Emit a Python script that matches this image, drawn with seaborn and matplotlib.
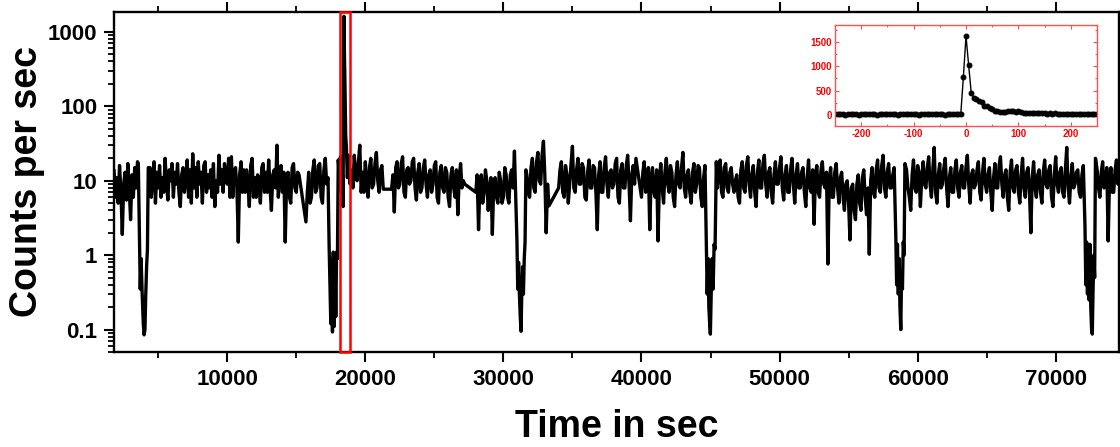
import numpy as np
import pandas as pd
import matplotlib
matplotlib.use('Agg')
from matplotlib import pyplot as plt
from matplotlib.patches import Rectangle
from matplotlib.ticker import MultipleLocator, FixedLocator, LogLocator, NullFormatter
import seaborn as sns

# ---- light curve, counts per sec, 100 s bins between gaps ----
BIN = 100

seg1_t0 = 1800
seg1 = [14, 6, 11, 5, 16, 7, 1.9, 9, 13, 5.5, 17, 8, 3.0, 12, 6, 15, 8, 18]

ecl1_t = [3560, 3640, 3700, 3760, 3840, 3920, 3980, 4040, 4100, 4160, 4220, 4280]
ecl1 = [17, 1.9, 0.35, 0.9, 0.3, 0.12, 0.085, 0.1, 0.3, 0.7, 1.2, 15]

seg2_t0 = 4400
seg2 = [15, 6, 12, 18, 5, 13, 8, 16, 6, 11,
        7, 20, 9, 5.5, 14, 10, 17, 6, 13, 9,
        17, 7, 4.5, 12, 15, 7, 11, 19, 6, 14,
        5, 23, 8, 15, 6, 18, 9, 13, 5, 16,
        18, 7, 12, 8, 14, 6, 17, 4.5, 10, 7,
        22, 9, 14, 7, 17, 11, 9, 20, 6, 21,
        6, 13, 15, 8, 1.5, 12, 18, 7, 14, 7,
        14, 9, 4.5, 16, 20, 6, 11, 6, 12, 9,
        5, 15, 17, 7, 13, 7, 19, 8, 4, 12,
        14, 8, 30, 6, 11, 16, 7, 13, 1.5, 10,
        13, 6, 5, 15, 17, 8, 7, 13, 12]

seg3_t0 = 15700
seg3 = [2.8, 7, 13, 5, 6, 14, 19, 7, 8, 16, 17, 6, 5, 14, 20, 9, 11]

ecl2_t = [17380, 17440, 17500, 17560, 17620, 17680, 17740, 17800, 17860, 17920, 17980, 18040]
ecl2 = [1.3, 0.4, 0.12, 0.9, 0.093, 1.1, 0.11, 1.0, 0.15, 1.1, 0.9, 19]

burst_t = [18120, 18200, 18270, 18330, 18390, 18430, 18450, 18470, 18490, 18510, 18540, 18580, 18630, 18700, 18760]
burst = [12, 21, 7, 14, 4.5, 780, 1620, 1030, 450, 300, 120, 40, 28, 11, 22]

seg4_t0 = 18800
seg4 = [20, 9, 14, 8, 22, 12, 10, 18, 30, 7, 13, 7, 18, 9, 6, 15, 20, 8, 9, 17,
        24, 10, 7, 14, 16, 7.7]

seg5_t0 = 21900
seg5 = [7.7, 12, 3.8, 15, 18, 8, 9, 17, 21, 7,
        6, 14, 15, 9, 10, 18, 20, 8, 5.5, 13,
        17, 7, 8, 15, 19, 9, 6, 12, 14, 7,
        9, 16, 18, 6, 5, 13, 16, 8, 7, 15,
        13, 6, 4.5, 12, 15, 8, 6, 14, 3.5, 11,
        17, 8, 10, 9]

seg6_t0 = 28000
seg6 = [7, 12, 2.2, 9, 12, 5, 7, 14, 10, 4, 8, 11, 1.9, 9, 11, 6, 5, 13, 10, 5,
        6, 15, 12, 6, 5, 12, 14, 8, 25]

ecl3_t = [30980, 31040, 31100, 31160, 31220, 31280, 31330, 31390, 31450, 31510, 31570, 31630]
ecl3 = [1.6, 0.35, 0.8, 0.3, 0.15, 0.095, 0.3, 0.7, 0.3, 0.9, 1.5, 14]

seg7_t0 = 31700
seg7 = [12, 7, 6, 15, 20, 8, 7, 18, 24, 10, 9, 22, 34, 12, 2.0, 9, 4.6]

seg8_t0 = 34000
seg8 = [8, 14, 18, 7, 6, 16, 12, 5, 9, 17,
        29, 8, 7, 14, 20, 9, 9, 17, 15, 6,
        5.5, 13, 19, 8, 8, 16, 15, 7, 2.2, 12,
        18, 7, 7, 15, 21, 9, 6, 13, 14, 8,
        9, 17, 20, 6, 5, 14, 17, 8, 8, 16,
        22, 9, 2.9, 12, 16, 9, 20]

seg9_t0 = 40000
seg9 = [6, 13, 18, 7, 9, 15, 2.2, 11, 15, 7,
        6, 14, 1.55, 10, 17, 8, 5, 13, 20, 9,
        7, 16, 13, 6, 4.5, 12, 18, 9, 8, 15,
        24, 8, 6, 12, 14, 7, 5, 13, 17, 7,
        9, 16, 15, 6, 4.5, 11, 16]

ecl4_t = [44700, 44760, 44820, 44880, 44940, 44990, 45050, 45120, 45190, 45260, 45330, 45420]
ecl4 = [1.5, 0.3, 0.9, 0.2, 0.12, 0.087, 0.3, 0.9, 0.35, 1.4, 1.2, 18]

seg10_t0 = 45500
seg10 = [8, 14, 19, 7, 6, 15, 17, 8, 7, 13,
         15, 9, 7, 10, 12, 6, 5, 14, 18, 8,
         7, 16, 21, 9, 6, 12, 16, 7, 4.5, 13,
         19, 8, 8, 17, 22, 9, 6, 13, 15, 7,
         5, 12, 18, 9, 9, 15, 21, 8, 5.5, 12,
         16, 7, 7, 14, 20, 9, 5, 12, 17, 8,
         8, 13, 15, 7, 4.5, 11, 19, 8, 7, 14,
         2.6, 12, 16, 7, 6, 14, 18, 9, 8, 13,
         0.76, 10, 15, 6, 6, 13, 17, 8, 5, 11,
         13, 6, 4, 9, 10, 5, 1.6, 8, 9, 4,
         3, 9, 12, 5, 4, 11, 14, 6, 3.5, 8,
         1.03, 10, 15, 7, 6, 14, 19, 8, 7, 16,
         22, 8, 6, 13, 17, 8, 8, 12, 15]

ecl5_t = [58420, 58480, 58540, 58600, 58660, 58720, 58780, 58840, 58900, 58960, 59020, 59080]
ecl5 = [1.8, 0.4, 1.4, 0.3, 0.9, 0.2, 0.1, 0.6, 0.35, 1.5, 1.0, 17]

seg11_t0 = 59200
seg11 = [14, 8, 6, 4, 12, 19, 8, 7, 16, 13,
         4.5, 11, 18, 9, 8, 15, 21, 9, 6, 14,
         28, 7, 5, 12, 17, 8, 9, 15, 20, 8,
         4.5, 11, 15, 7, 7, 14, 19, 8, 6, 13,
         16, 8, 8, 15, 22, 9, 5, 12, 14, 8,
         9, 14, 18, 7, 5.5, 13, 20, 9, 7, 12,
         15, 7, 4, 11, 17, 8, 8, 16, 21, 9,
         6, 12, 14, 6, 4, 13, 19, 8, 7, 14,
         16, 7, 5, 12, 20, 8, 6, 13, 15, 7,
         2.0, 11, 18, 8, 6, 12, 14, 7, 5, 13,
         19, 9, 8, 14, 16, 6, 4.5, 12, 21, 9,
         7, 13, 15, 7, 6, 14, 28, 8, 5, 11,
         17, 8, 9, 13, 14, 7, 6, 12, 16]

ecl6_t = [72120, 72180, 72240, 72300, 72360, 72420, 72480, 72540, 72600, 72650, 72700, 72760, 72820, 72880]
ecl6 = [2.5, 0.4, 1.5, 0.3, 1.2, 0.25, 1.4, 0.2, 0.1, 0.087, 0.3, 1.0, 0.5, 20]

seg12_t0 = 73000
seg12 = [14, 8, 6, 13, 18, 8, 9, 15, 1.55, 11, 15, 7, 7, 14, 19, 9, 12]

# ---- inset: burst profile, 5 s bins ----
inset_t0 = -250
inset_rate = [12, 8, 15, 10, 6, 14, 9, 11, 18, 7,
              13, 10, 8, 16, 9, 12, 7, 14, 11, 9,
              15, 8, 10, 13, 6, 12, 9, 17, 10, 8,
              14, 11, 7, 13, 9, 10, 15, 8, 12, 9,
              11, 14, 7, 10, 13, 9, 12, 8, 10,
              780, 1620, 1030, 450,
              345, 320, 290, 255, 190, 180, 150, 115, 85, 72,
              68, 60, 65, 80, 75, 70, 62, 72, 55, 45,
              42, 38, 35, 36, 30, 33, 28, 31, 27, 29,
              25, 28, 24, 26, 22, 25, 23, 21, 24, 20,
              22, 19, 21, 18, 20, 19, 17, 18]


def binned(t0, vals, step):
    return t0 + step * np.arange(len(vals))


pieces = [
    (binned(seg1_t0, seg1, BIN), seg1), (ecl1_t, ecl1),
    (binned(seg2_t0, seg2, BIN), seg2),
    (binned(seg3_t0, seg3, BIN), seg3), (ecl2_t, ecl2), (burst_t, burst),
    (binned(seg4_t0, seg4, BIN), seg4),
    (binned(seg5_t0, seg5, BIN), seg5),
    (binned(seg6_t0, seg6, BIN), seg6), (ecl3_t, ecl3),
    (binned(seg7_t0, seg7, BIN), seg7),
    (binned(seg8_t0, seg8, BIN), seg8),
    (binned(seg9_t0, seg9, BIN), seg9), (ecl4_t, ecl4),
    (binned(seg10_t0, seg10, BIN), seg10), (ecl5_t, ecl5),
    (binned(seg11_t0, seg11, BIN), seg11), (ecl6_t, ecl6),
    (binned(seg12_t0, seg12, BIN), seg12),
]
df = pd.DataFrame({'time': np.concatenate([np.asarray(p[0], float) for p in pieces]),
                   'rate': np.concatenate([np.asarray(p[1], float) for p in pieces])})
df_in = pd.DataFrame({'t': binned(inset_t0, inset_rate, 5), 'rate': inset_rate})

sns.set_theme(style='ticks', rc={'axes.edgecolor': 'black', 'xtick.color': 'black',
                                 'ytick.color': 'black', 'text.color': 'black',
                                 'axes.labelcolor': 'black'})
plt.rcParams['font.family'] = ['Liberation Sans', 'DejaVu Sans']
plt.rcParams['font.weight'] = 'bold'
plt.rcParams['axes.labelweight'] = 'bold'
plt.rcParams['axes.unicode_minus'] = False

fig = plt.figure(figsize=(11.2, 4.47), dpi=100)
ax = fig.add_axes([0.1018, 0.2125, 0.8975, 0.7607])
sns.lineplot(data=df, x='time', y='rate', ax=ax, color='black', lw=2.4,
             estimator=None, sort=False)
ax.set_yscale('log')
ax.set_ylim(0.05, 1850)
ax.set_xlim(1800, 74600)

ax.yaxis.set_major_locator(FixedLocator([0.1, 1, 10, 100, 1000]))
ax.set_yticklabels(['0.1', '1', '10', '100', '1000'])
ax.yaxis.set_minor_locator(LogLocator(base=10, subs=np.arange(2, 10)))
ax.yaxis.set_minor_formatter(NullFormatter())
ax.xaxis.set_major_locator(MultipleLocator(10000))
ax.xaxis.set_minor_locator(MultipleLocator(5000))
ax.tick_params(axis='both', which='major', direction='out', length=7, width=1.5,
               labelsize=16, pad=5)
ax.tick_params(axis='both', which='minor', direction='out', length=4, width=1.3)
ax.tick_params(axis='x', which='both', top=True)
for lab in ax.get_xticklabels() + ax.get_yticklabels():
    lab.set_fontweight('bold')
for s in ax.spines.values():
    s.set_linewidth(1.7)
    s.set_visible(True)

ax.set_xlabel('Time in sec', fontsize=27, fontweight='bold', labelpad=14)
ax.set_ylabel('Counts per sec', fontsize=27, fontweight='bold', labelpad=2)

# red box marking the burst
ax.add_patch(Rectangle((18150, 0), 720, 1, transform=ax.get_xaxis_transform(),
                       fill=False, ec='red', lw=1.8, clip_on=False, zorder=5))

# inset
axin = fig.add_axes([0.7455, 0.7181, 0.234, 0.2259])
axin.set_facecolor('white')
sns.lineplot(data=df_in, x='t', y='rate', ax=axin, color='black', lw=1.0,
             marker='o', markersize=3.5, markeredgecolor='black', estimator=None)
axin.set_xlim(-250, 250)
axin.set_ylim(-230, 1850)
axin.xaxis.set_major_locator(MultipleLocator(100))
axin.xaxis.set_minor_locator(MultipleLocator(50))
axin.yaxis.set_major_locator(MultipleLocator(500))
axin.yaxis.set_minor_locator(MultipleLocator(250))
axin.tick_params(axis='both', which='both', direction='in', top=True, right=True,
                 color='#ff5050', labelcolor='red', labelsize=7, width=0.8, pad=2)
axin.tick_params(which='major', length=3)
axin.tick_params(which='minor', length=1.5)
for lab in axin.get_xticklabels() + axin.get_yticklabels():
    lab.set_fontweight('bold')
for s in axin.spines.values():
    s.set_color('#ff5050')
    s.set_linewidth(1.0)
axin.set_xlabel('')
axin.set_ylabel('')

fig.savefig('out.png', dpi=100)
